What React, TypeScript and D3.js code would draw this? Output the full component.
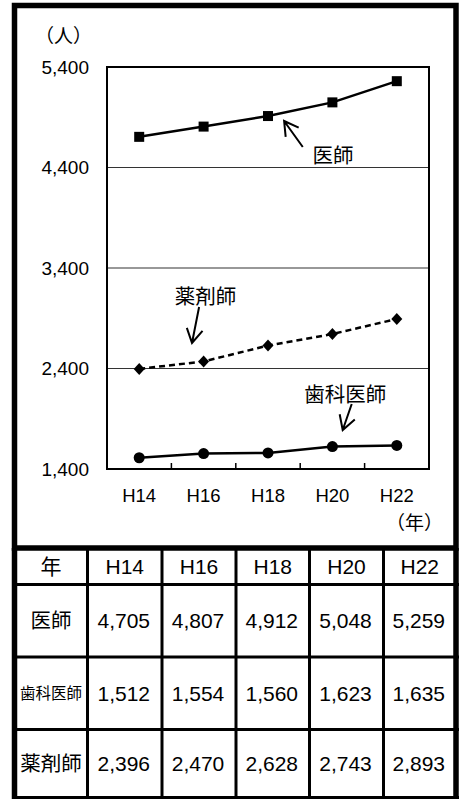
import React from 'react';
import * as d3 from 'd3';

const years = ['H14', 'H16', 'H18', 'H20', 'H22'];
const doctors = [4705, 4807, 4912, 5048, 5259];
const dentists = [1512, 1554, 1560, 1623, 1635];
const pharmacists = [2396, 2470, 2628, 2743, 2893];
const yTicks = [1400, 2400, 3400, 4400, 5400];
const gridTicks = [2400, 3400, 4400];
const rowLabels = ['医師', '歯科医師', '薬剤師'];
const tableRows = [doctors, dentists, pharmacists];
const yUnit = '（人）';
const xUnit = '（年）';
const headerLabel = '年';

// annotations in data space: index along categories, value
const annotations = [
  { text: '医師', tx: 3.01, tv: 4514, tipI: 2.25, tipV: 4863, tailI: 2.54, tailV: 4604 },
  { text: '薬剤師', tx: 1.03, tv: 3111, tipI: 0.82, tipV: 2654, tailI: 0.93, tailV: 3012 },
  { text: '歯科医師', tx: 3.2, tv: 2136, tipI: 3.16, tipV: 1788, tailI: 3.3, tailV: 2047 },
];

const LATIN = "'Liberation Sans', Arial, 'Noto Sans CJK JP', sans-serif";
const CJK = "'Noto Sans CJK JP', 'Liberation Sans', sans-serif";

export default function App() {
  const W = 466;
  const H = 799;
  const plot = { left: 107, right: 429, top: 67, bottom: 469 };
  const x = d3.scaleBand<string>().domain(years).range([plot.left, plot.right]).padding(0);
  const bw = x.bandwidth();
  const cx = (i: number) => (x(years[0]) as number) + bw / 2 + i * bw;
  const y = d3.scaleLinear().domain([1400, 5400]).range([plot.bottom, plot.top]);

  const line = d3
    .line<number>()
    .x((_, i) => cx(i))
    .y((d) => y(d));

  // table geometry
  const colEdges = [14.5, 87.5, 162, 236, 309.5, 383.5, 456];
  const rowEdges = [548, 584.5, 657, 729.5, 797.5];
  const colCenter = (c: number) => (colEdges[c] + colEdges[c + 1]) / 2;
  const rowCenter = (r: number) => (rowEdges[r] + rowEdges[r + 1]) / 2;

  const arrow = (a: typeof annotations[number]) => {
    const tx = cx(a.tipI);
    const ty = y(a.tipV);
    const sx = cx(a.tailI);
    const sy = y(a.tailV);
    const ang = Math.atan2(sy - ty, sx - tx);
    const L = 16;
    const spread = (30 * Math.PI) / 180;
    const b1 = [tx + L * Math.cos(ang + spread), ty + L * Math.sin(ang + spread)];
    const b2 = [tx + L * Math.cos(ang - spread), ty + L * Math.sin(ang - spread)];
    return `M${sx},${sy}L${tx},${ty}M${b1[0]},${b1[1]}L${tx},${ty}L${b2[0]},${b2[1]}`;
  };

  const diamond = (px: number, py: number) =>
    `M${px},${py - 6}L${px + 5.5},${py}L${px},${py + 6}L${px - 5.5},${py}Z`;

  return (
    <svg
      width={W}
      height={H}
      style={{ position: 'absolute', left: 0, top: 0, background: '#fff' }}
    >
      <rect x={0} y={0} width={W} height={H} fill="#fff" />

      {/* gridlines */}
      {gridTicks.map((t) => (
        <line key={t} x1={plot.left} x2={plot.right} y1={y(t)} y2={y(t)} stroke="#333" strokeWidth={1.2} />
      ))}

      {/* plot frame */}
      <rect
        x={plot.left}
        y={plot.top}
        width={plot.right - plot.left}
        height={plot.bottom - plot.top}
        fill="none"
        stroke="#000"
        strokeWidth={2}
      />

      {/* x tick marks at category boundaries */}
      {years.slice(1).map((yr) => (
        <line
          key={yr}
          x1={x(yr) as number}
          x2={x(yr) as number}
          y1={plot.bottom}
          y2={plot.bottom - 6}
          stroke="#000"
          strokeWidth={1.5}
        />
      ))}

      {/* y tick labels */}
      {yTicks.map((t) => (
        <text
          key={t}
          x={89}
          y={y(t)}
          dy="0.36em"
          textAnchor="end"
          fontFamily={LATIN}
          fontSize={19}
          fill="#000"
        >
          {d3.format(',')(t)}
        </text>
      ))}

      {/* x tick labels */}
      {years.map((yr) => (
        <text
          key={yr}
          x={(x(yr) as number) + bw / 2}
          y={495}
          dy="0.36em"
          textAnchor="middle"
          fontFamily={LATIN}
          fontSize={18.5}
          fill="#000"
        >
          {yr}
        </text>
      ))}

      <text x={35} y={36} dy="0.36em" fontFamily={CJK} fontSize={19} fill="#000">
        {yUnit}
      </text>
      <text x={386} y={523} dy="0.36em" fontFamily={CJK} fontSize={19} fill="#000">
        {xUnit}
      </text>

      {/* series lines */}
      <path d={line(doctors) || ''} fill="none" stroke="#000" strokeWidth={2.5} />
      <path d={line(dentists) || ''} fill="none" stroke="#000" strokeWidth={2.5} />
      <path d={line(pharmacists) || ''} fill="none" stroke="#000" strokeWidth={2.5} strokeDasharray="6 4" />

      {doctors.map((v, i) => (
        <rect key={'d' + i} x={cx(i) - 5} y={y(v) - 5} width={10} height={10} fill="#000" />
      ))}
      {dentists.map((v, i) => (
        <circle key={'c' + i} cx={cx(i)} cy={y(v)} r={5.5} fill="#000" />
      ))}
      {pharmacists.map((v, i) => (
        <path key={'p' + i} d={diamond(cx(i), y(v))} fill="#000" />
      ))}

      {/* annotations */}
      {annotations.map((a) => (
        <g key={a.text}>
          <path d={arrow(a)} fill="none" stroke="#000" strokeWidth={2} />
          <text
            x={cx(a.tx)}
            y={y(a.tv)}
            dy="0.36em"
            textAnchor="middle"
            fontFamily={CJK}
            fontSize={20.5}
            fill="#000"
          >
            {a.text}
          </text>
        </g>
      ))}

      {/* outer frame of the chart */}
      <rect x={14.5} y={5.5} width={441.5} height={542.5} fill="none" stroke="#000" strokeWidth={5.5} />

      {/* table */}
      <line x1={14.5} x2={14.5} y1={548} y2={799} stroke="#000" strokeWidth={5.5} />
      <line x1={456} x2={456} y1={548} y2={799} stroke="#000" strokeWidth={5.5} />
      {colEdges.slice(1, -1).map((cxE, i) => (
        <line key={'cv' + i} x1={cxE} x2={cxE} y1={548} y2={799} stroke="#000" strokeWidth={3} />
      ))}
      {rowEdges.slice(1).map((ry, i) => (
        <line key={'rh' + i} x1={12} x2={459} y1={ry} y2={ry} stroke="#000" strokeWidth={3} />
      ))}

      {/* header row */}
      <text x={colCenter(0)} y={rowCenter(0)} dy="0.36em" textAnchor="middle" fontFamily={CJK} fontSize={21} fill="#000">
        {headerLabel}
      </text>
      {years.map((yr, i) => (
        <text
          key={'h' + yr}
          x={colCenter(i + 1)}
          y={rowCenter(0)}
          dy="0.36em"
          textAnchor="middle"
          fontFamily={LATIN}
          fontSize={21}
          fill="#000"
        >
          {yr}
        </text>
      ))}

      {tableRows.map((row, r) => (
        <g key={'row' + r}>
          <text
            x={colCenter(0)}
            y={rowCenter(r + 1)}
            dy="0.36em"
            textAnchor="middle"
            fontFamily={CJK}
            fontSize={rowLabels[r].length > 3 ? 15.5 : 20.5}
            fill="#000"
          >
            {rowLabels[r]}
          </text>
          {row.map((v, i) => (
            <text
              key={i}
              x={colCenter(i + 1) - 1}
              y={rowCenter(r + 1)}
              dy="0.36em"
              textAnchor="middle"
              fontFamily={LATIN}
              fontSize={21}
              fill="#000"
            >
              {d3.format(',')(v)}
            </text>
          ))}
        </g>
      ))}
    </svg>
  );
}
